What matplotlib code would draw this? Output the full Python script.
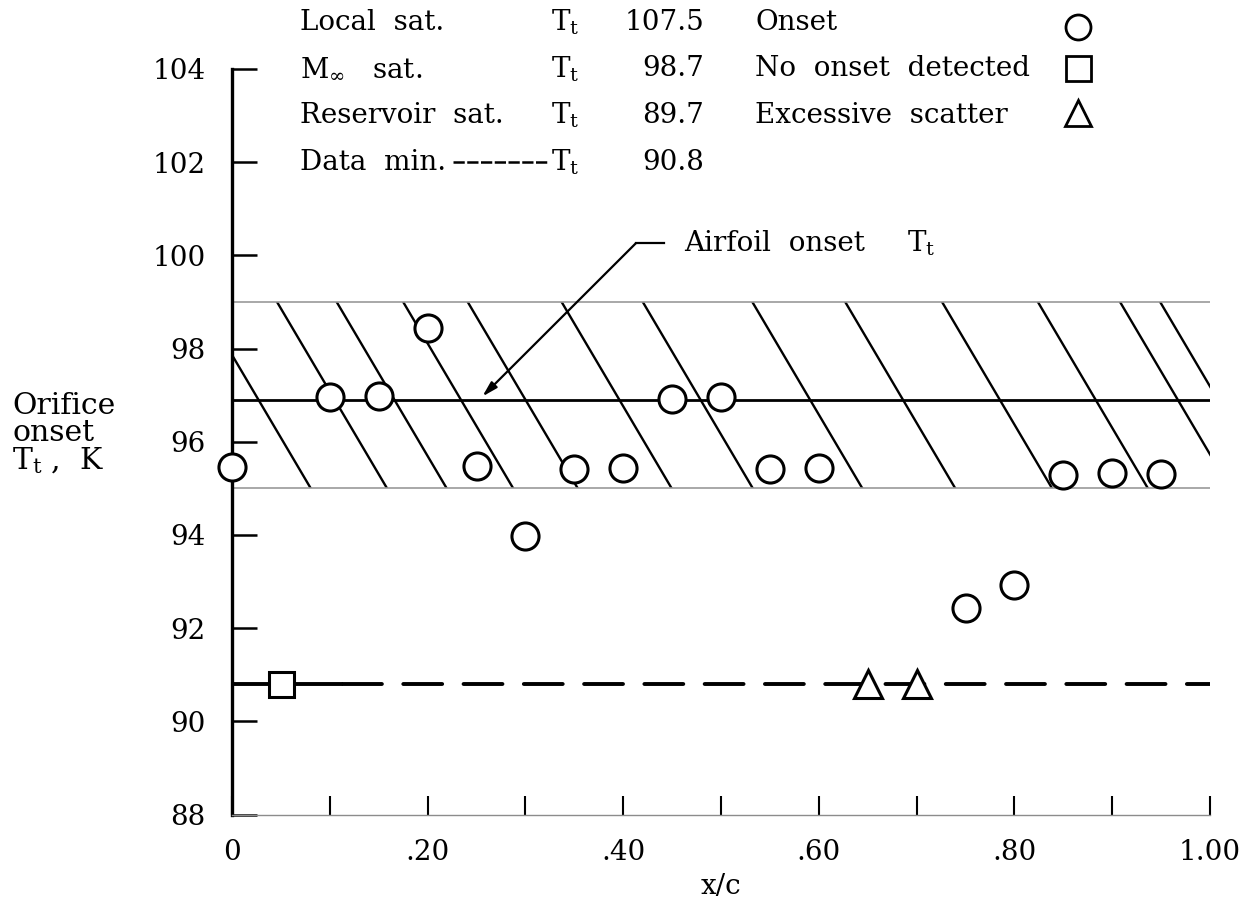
import matplotlib
matplotlib.use("Agg")
import matplotlib.pyplot as plt
import matplotlib.patches as mpatches
import numpy as np

plt.rcParams["font.family"] = "DejaVu Serif"
plt.rcParams["mathtext.fontset"] = "dejavuserif"

# orifice onset temperatures along the chord
onset_x = [0, .10, .15, .20, .25, .30, .35, .40, .45, .50, .55, .60, .75, .80, .85, .90, .95]
onset_t = [95.45, 96.95, 96.98, 98.43, 95.47, 93.97, 95.41, 95.43, 96.92, 96.95,
           95.41, 95.43, 92.44, 92.92, 95.29, 95.32, 95.30]
no_onset_x = [0.05]
no_onset_t = [90.8]
scatter_x = [0.65, 0.70]
scatter_t = [90.8, 90.8]

airfoil_onset = 96.9
data_min = 90.8
band_low, band_high = 95.0, 99.0

# hand-drawn hatch strokes: x where each stroke meets the top of the band
hatch_starts = [-0.032, 0.046, 0.107, 0.175, 0.241, 0.337, 0.420, 0.532,
                0.627, 0.726, 0.824, 0.908, 0.949]
hatch_run = 0.1125

y_ticks = [88, 90, 92, 94, 96, 98, 100, 102, 104]
x_ticks = [0, 0.2, 0.4, 0.6, 0.8, 1.0]
x_ticklabels = ["0", ".20", ".40", ".60", ".80", "1.00"]

fs = 20
tt = r"$\mathrm{T_t}$"

fig = plt.figure(figsize=(12.47, 9.08), dpi=100)
ax = fig.add_axes([232 / 1247, 1 - 814.5 / 908, 978 / 1247, 745.6 / 908])
ax.set_xlim(0, 1.0)
ax.set_ylim(88, 104)

# hatched band
clip = mpatches.Rectangle((0, band_low), 1.0, band_high - band_low,
                          transform=ax.transData, fill=False, visible=False)
ax.add_patch(clip)
for xs in hatch_starts:
    ln, = ax.plot([xs, xs + hatch_run], [band_high, band_low], color="black", lw=1.7)
    ln.set_clip_path(clip)
ax.plot([0, 1.0], [band_high, band_high], color="0.6", lw=1.2)
ax.plot([0, 1.0], [band_low, band_low], color="0.6", lw=1.2)

# airfoil onset and data minimum lines
ax.plot([0, 1.0], [airfoil_onset, airfoil_onset], color="black", lw=2.0)
ax.plot([0, 0.113], [data_min, data_min], color="black", lw=2.8, solid_capstyle="butt")
ax.plot([0.113, 1.0], [data_min, data_min], color="black", lw=2.8,
        dashes=(10, 5.5), dash_capstyle="round")

mk = dict(linestyle="none", markerfacecolor="white", markeredgecolor="black",
          markeredgewidth=2.2, clip_on=False, zorder=5)
ax.plot(onset_x, onset_t, marker="o", markersize=19.5, **mk)
ax.plot(no_onset_x, no_onset_t, marker="s", markersize=18, **mk)
ax.plot(scatter_x, scatter_t, marker="^", markersize=20, **mk)

# leader for airfoil onset line
ax.plot([0.442, 0.413], [100.26, 100.26], color="black", lw=1.6, clip_on=False)
ax.annotate("", xy=(0.256, 96.97), xytext=(0.413, 100.26),
            arrowprops=dict(arrowstyle="-|>,head_length=0.9,head_width=0.25",
                            color="black", lw=1.6, shrinkA=0, shrinkB=0))
ax.text(0.462, 100.26, "Airfoil  onset", fontsize=fs, va="center", ha="left")
ax.text(0.69, 100.26, tt, fontsize=fs, va="center", ha="left")

# key block at the top
rows = [105.0, 104.0, 103.0, 102.0]
names = ["Local  sat.", r"$\mathrm{M}_\infty$   sat.", "Reservoir  sat.", "Data  min."]
values = ["107.5", "98.7", "89.7", "90.8"]
for y, name, val in zip(rows, names, values):
    ax.text(0.0695, y, name, fontsize=fs, va="center", ha="left", clip_on=False)
    ax.text(0.326, y, tt, fontsize=fs, va="center", ha="left", clip_on=False)
    ax.text(0.483, y, val, fontsize=fs, va="center", ha="right", clip_on=False)
ax.plot([0.226, 0.324], [rows[3], rows[3]], color="black", lw=1.8,
        dashes=(4.5, 1.0), clip_on=False)

key_labels = ["Onset", "No  onset  detected", "Excessive  scatter"]
key_marks = ["o", "s", "^"]
key_marker_y = [104.9, 104.02, 103.05]
for y, lab in zip(rows[:3], key_labels):
    ax.text(0.535, y, lab, fontsize=fs, va="center", ha="left", clip_on=False)
for y, m in zip(key_marker_y, key_marks):
    ax.plot([0.865], [y], marker=m, markersize=18 if m != "^" else 19,
            **{**mk, "markeredgewidth": 2.0})

# axes styling
for side in ["top", "right"]:
    ax.spines[side].set_visible(False)
ax.spines["left"].set_linewidth(2.4)
ax.spines["bottom"].set_linewidth(1.0)
ax.spines["bottom"].set_color("0.55")

ax.set_yticks(y_ticks)
ax.set_yticklabels([str(v) for v in y_ticks])
ax.set_xticks(x_ticks)
ax.set_xticklabels(x_ticklabels)
ax.set_xticks(np.arange(0.1, 1.0, 0.2), minor=True)
ax.tick_params(axis="y", direction="in", length=18, width=1.8, pad=19, labelsize=fs)
ax.tick_params(axis="x", which="both", direction="in", length=14, width=1.5, pad=18,
               labelsize=fs)

ax.set_xlabel("x/c", fontsize=fs, labelpad=5)
fig.text(12 / 1247, 1 - 434 / 908, "Orifice\nonset\n" + tt + " ,  K",
         fontsize=21.5, va="center", ha="left", linespacing=0.95)

fig.savefig("out.png", dpi=100)
